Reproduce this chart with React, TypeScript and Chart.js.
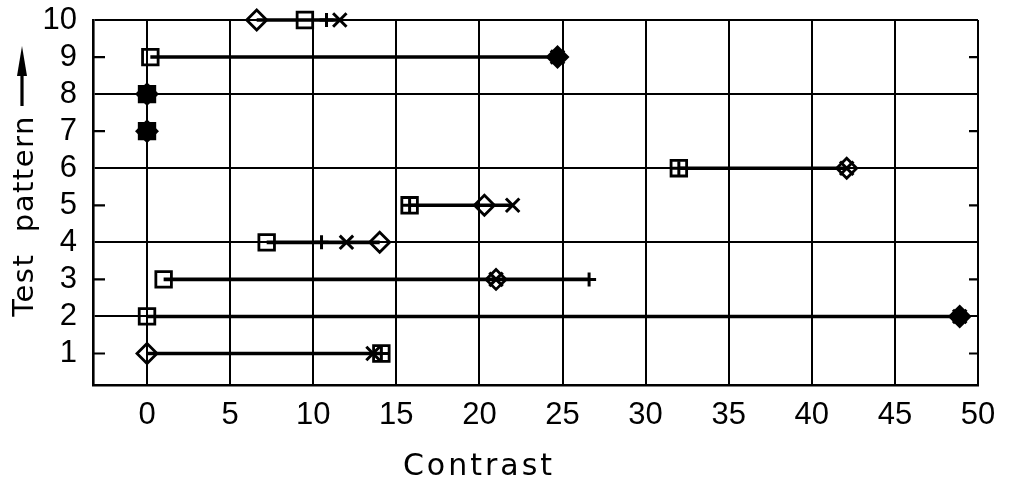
import { useEffect, useRef } from "react";
import { Chart, registerables } from "chart.js";

Chart.register(...registerables);

// Test patterns (rows) and the contrast measured by four methods
const patterns = [1, 2, 3, 4, 5, 6, 7, 8, 9, 10];
const squareValues = [14.1, 0.0, 1.0, 7.2, 15.8, 32.0, 0.0, 0.0, 0.2, 9.5];
const diamondValues = [0.0, 48.9, 21.0, 14.0, 20.3, 42.1, 0.0, 0.0, 24.7, 6.6];
const plusValues = [14.1, 48.9, 26.6, 10.5, 15.8, 32.0, 0.0, 0.0, 24.7, 10.8];
const crossValues = [13.6, 48.9, 21.0, 12.0, 22.0, 42.1, 0.0, 0.0, 24.7, 11.6];

const contrastTicks = [0, 5, 10, 15, 20, 25, 30, 35, 40, 45, 50];
const patternTicks = [1, 2, 3, 4, 5, 6, 7, 8, 9, 10];

const X_MIN = -3.25;
const X_MAX = 50;
const Y_MIN = 0.15;
const Y_MAX = 10;

const INK = "#000";
const TICK_FONT = "'Liberation Sans', Arial, sans-serif";
const TITLE_FONT = "'DejaVu Sans', sans-serif";

const near = (a: number, b: number) => Math.abs(a - b) < 0.5;
// diamond, plus and cross falling on the same spot print as a solid blob
const merged = patterns.map(
  (_, i) =>
    near(diamondValues[i], plusValues[i]) && near(diamondValues[i], crossValues[i])
);

const markerSet = (
  values: number[],
  pointStyle: string,
  radius: number,
  width: number,
  fill: (i: number) => boolean
) => ({
  type: "scatter" as const,
  data: patterns.map((p, i) => ({ x: values[i], y: p })),
  pointStyle,
  pointRadius: radius,
  pointBorderWidth: width,
  pointBorderColor: INK,
  pointBackgroundColor: patterns.map((_, i) => (fill(i) ? INK : "rgba(0,0,0,0)")),
  showLine: false,
  clip: false as const,
});

// horizontal bar per row spanning the lowest to the highest reading
const rangeSets = patterns.map((p, i) => {
  const vals = [squareValues[i], diamondValues[i], plusValues[i], crossValues[i]];
  return {
    type: "scatter" as const,
    data: [
      { x: Math.min(...vals), y: p },
      { x: Math.max(...vals), y: p },
    ],
    showLine: true,
    borderColor: INK,
    borderWidth: 3.6,
    pointRadius: 0,
    clip: false as const,
  };
});

// short inner ticks at the odd rows and the two axis titles
const decorations = {
  id: "decorations",
  afterDraw(chart: any) {
    const { ctx, chartArea, scales } = chart;
    const y = scales.y;
    ctx.save();
    ctx.strokeStyle = INK;
    ctx.lineWidth = 2.2;
    for (const v of patternTicks) {
      if (v % 2 === 0) continue;
      const py = y.getPixelForValue(v);
      ctx.beginPath();
      ctx.moveTo(chartArea.left, py);
      ctx.lineTo(chartArea.left + 12, py);
      ctx.moveTo(chartArea.right - 9, py);
      ctx.lineTo(chartArea.right, py);
      ctx.stroke();
    }

    ctx.fillStyle = INK;
    ctx.font = `30px ${TITLE_FONT}`;
    ctx.textAlign = "center";
    ctx.textBaseline = "alphabetic";
    (ctx as any).letterSpacing = "3px";
    ctx.fillText("Contrast", chartArea.left + 386, 475);

    ctx.translate(33, 216);
    ctx.rotate(-Math.PI / 2);
    ctx.font = `29px ${TITLE_FONT}`;
    (ctx as any).letterSpacing = "1.5px";
    ctx.fillText("Test  pattern", 0, 0);
    (ctx as any).letterSpacing = "0px";

    // arrow pointing toward higher pattern numbers
    ctx.lineWidth = 3.2;
    ctx.beginPath();
    ctx.moveTo(110, -11);
    ctx.lineTo(145, -11);
    ctx.stroke();
    ctx.beginPath();
    ctx.moveTo(170, -11);
    ctx.lineTo(140, -16);
    ctx.lineTo(140, -6);
    ctx.closePath();
    ctx.fill();
    ctx.restore();
  },
};

export default function App() {
  const canvasRef = useRef<HTMLCanvasElement | null>(null);

  useEffect(() => {
    const canvas = canvasRef.current;
    if (!canvas) return;
    const chart = new Chart(canvas, {
      type: "scatter",
      data: {
        datasets: [
          ...rangeSets,
          markerSet(squareValues, "rect", 11, 2.8, (i) => merged[i] && near(squareValues[i], diamondValues[i])),
          markerSet(diamondValues, "rectRot", 10, 2.8, (i) => merged[i]),
          markerSet(plusValues, "cross", 7, 3, () => false),
          markerSet(crossValues, "crossRot", 9.5, 3, () => false),
        ] as any,
      },
      options: {
        animation: false,
        responsive: false,
        devicePixelRatio: 1,
        events: [],
        layout: { padding: { top: 20, right: 32, left: 0, bottom: 0 } },
        plugins: {
          legend: { display: false },
          tooltip: { enabled: false },
        },
        scales: {
          x: {
            type: "linear",
            min: X_MIN,
            max: X_MAX,
            afterBuildTicks: (s: any) => {
              s.ticks = contrastTicks.map((v) => ({ value: v }));
            },
            afterFit: (s: any) => {
              s.height = 100;
            },
            grid: { color: INK, lineWidth: 2, drawTicks: false },
            border: { color: INK, width: 2.6 },
            ticks: {
              color: INK,
              padding: 12,
              maxRotation: 0,
              autoSkip: false,
              font: { family: TICK_FONT, size: 31 },
            },
          },
          y: {
            type: "linear",
            min: Y_MIN,
            max: Y_MAX,
            afterBuildTicks: (s: any) => {
              s.ticks = patternTicks.map((v) => ({ value: v }));
            },
            afterFit: (s: any) => {
              s.width = 93;
              s.paddingTop = 0;
              s.paddingBottom = 0;
            },
            grid: {
              color: (c: any) => (c.tick && c.tick.value % 2 === 0 ? INK : "rgba(0,0,0,0)"),
              lineWidth: 2,
              drawTicks: false,
            },
            border: { color: INK, width: 2.6 },
            ticks: {
              color: INK,
              padding: 16,
              autoSkip: false,
              font: { family: TICK_FONT, size: 31 },
            },
          },
        },
      },
      plugins: [decorations],
    });
    return () => chart.destroy();
  }, []);

  return (
    <div style={{ position: "fixed", left: 0, top: 0, width: 1010, height: 485, background: "#fff" }}>
      <canvas ref={canvasRef} width={1010} height={485} />
    </div>
  );
}
